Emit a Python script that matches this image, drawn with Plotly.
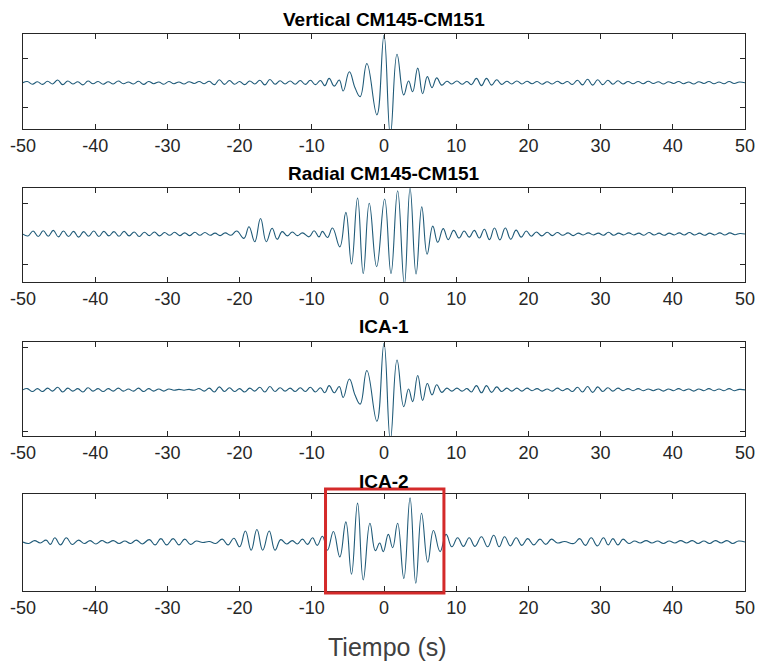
import plotly.graph_objects as go

# ---------------- data (extrema of each waveform) ----------------
vert_t = [
    -50.0, -49.4, -48.7, -48.0, -47.3, -46.6, -45.9, -45.2, -44.5, -43.8,
    -43.1, -42.4, -41.7, -41.0, -40.3, -39.6, -38.9, -38.2, -37.5, -36.8,
    -36.1, -35.4, -34.7, -34.0, -33.3, -32.6, -31.9, -31.2, -30.5, -29.8,
    -29.1, -28.4, -27.7, -27.0, -26.3, -25.6, -24.9, -24.2, -23.5, -22.8,
    -22.1, -21.4, -20.7, -20.0, -19.3, -18.6, -17.9, -17.2, -16.5, -15.8,
    -15.1, -14.4, -13.7, -13.0, -12.3, -11.6, -10.9, -10.2, -9.5, -8.8,
    -8.2, -7.6, -6.9, -6.2, -5.65, -4.8, -4.0, -3.3, -2.37, -0.98,
    0.0, 0.88, 1.8, 2.73, 3.4, 3.97, 4.67, 5.35, 6.0, 6.65,
    7.3, 8.0, 8.7, 9.4, 10.1, 10.8, 11.5, 12.1, 12.8, 13.5,
    14.2, 14.9, 15.6, 16.3, 17.0, 17.7, 18.4, 19.1, 19.8, 20.5,
    21.2, 21.9, 22.6, 23.3, 24.0, 24.7, 25.4, 26.1, 26.8, 27.5,
    28.2, 28.9, 29.6, 30.3, 31.0, 31.7, 32.4, 33.1, 33.8, 34.5,
    35.2, 35.9, 36.6, 37.3, 38.0, 38.7, 39.4, 40.1, 40.8, 41.5,
    42.2, 42.9, 43.6, 44.3, 45.0, 45.7, 46.4, 47.1, 47.8, 48.5,
    49.2, 50.0]
vert_v = [
    0.0, 0.05, -0.06, 0.04, -0.07, 0.06, -0.05, 0.11, -0.08, 0.07,
    -0.05, 0.04, -0.09, 0.07, -0.04, 0.05, -0.06, 0.04, -0.05, 0.07,
    -0.04, 0.03, -0.05, 0.06, -0.07, 0.05, -0.04, 0.03, -0.06, 0.05,
    -0.04, 0.03, -0.05, 0.04, -0.03, 0.05, -0.04, 0.06, -0.08, 0.12,
    -0.07, 0.09, -0.06, 0.05, -0.08, 0.07, -0.05, 0.10, -0.09, 0.13,
    -0.06, 0.08, -0.05, 0.07, -0.06, 0.09, -0.07, 0.10, -0.08, 0.09,
    -0.12, 0.18, -0.14, 0.11, -0.34, 0.45, -0.22, -0.57, 0.79, -1.32,
    1.95, -2.15, 1.17, -0.5, 0.07, -0.37, 0.6, -0.45, 0.25, -0.2,
    0.2, -0.1, 0.06, -0.05, 0.07, -0.06, 0.05, -0.08, 0.18, -0.12,
    0.18, -0.1, 0.12, -0.07, 0.06, -0.05, 0.07, -0.05, 0.06, -0.04,
    0.05, -0.06, 0.04, -0.05, 0.06, -0.04, 0.05, -0.07, 0.1, -0.09,
    0.14, -0.1, 0.12, -0.08, 0.1, -0.06, 0.08, -0.05, 0.05, -0.04,
    0.05, -0.04, 0.06, -0.03, 0.04, -0.05, 0.04, -0.03, 0.05, -0.04,
    0.03, -0.05, 0.04, -0.03, 0.05, -0.04, 0.03, -0.04, 0.05, -0.03,
    0.03, 0.0]

rad_t = [
    -50.0, -49.3, -48.6, -47.9, -47.2, -46.5, -45.8, -45.1, -44.4, -43.7,
    -43.0, -42.3, -41.6, -40.9, -40.2, -39.5, -38.8, -38.1, -37.4, -36.7,
    -36.0, -35.3, -34.6, -33.9, -33.2, -32.5, -31.8, -31.1, -30.4, -29.7,
    -29.0, -28.3, -27.6, -26.9, -26.2, -25.5, -24.8, -24.1, -23.4, -22.7,
    -22.0, -21.2, -20.4, -19.4, -18.7, -17.9, -17.1, -16.3, -15.5, -14.8,
    -14.1, -13.4, -12.7, -12.0, -11.3, -10.37, -9.68, -9.0, -8.53, -7.83,
    -7.13, -6.12, -5.28, -4.5, -3.66, -2.875, -2.04, -1.02, 0.09, 0.97,
    1.89, 2.82, 3.61, 4.44, 5.23, 5.97, 6.75, 7.45, 8.2, 8.9,
    9.65, 10.4, 11.1, 11.8, 12.5, 13.2, 13.9, 14.6, 15.3, 16.05,
    16.8, 17.55, 18.3, 19.0, 19.7, 20.4, 21.1, 21.85, 22.6, 23.3,
    24.0, 24.75, 25.5, 26.2, 26.9, 27.6, 28.3, 29.0, 29.7, 30.4,
    31.1, 31.8, 32.5, 33.2, 33.9, 34.6, 35.3, 36.0, 36.7, 37.4,
    38.1, 38.8, 39.5, 40.2, 40.9, 41.6, 42.3, 43.0, 43.7, 44.4,
    45.1, 45.8, 46.5, 47.2, 47.9, 48.6, 49.3, 50.0]
rad_v = [
    0.0, -0.06, 0.1, -0.08, 0.11, -0.07, 0.12, -0.09, 0.1, -0.08,
    0.09, -0.1, 0.08, -0.07, 0.1, -0.08, 0.09, -0.06, 0.08, -0.07,
    0.09, -0.06, 0.07, -0.08, 0.06, -0.05, 0.07, -0.06, 0.05, -0.04,
    0.06, -0.05, 0.04, -0.05, 0.06, -0.04, 0.05, -0.04, 0.03, -0.05,
    0.04, -0.04, 0.1, -0.14, 0.24, -0.25, 0.51, -0.25, 0.19, -0.17,
    0.08, -0.06, 0.07, -0.05, 0.04, -0.09, 0.11, -0.09, 0.09, -0.11,
    0.2, -0.42, 0.71, -0.98, 1.18, -1.29, 1.01, -1.07, 1.15, -1.29,
    1.42, -1.65, 1.5, -1.31, 0.89, -0.66, 0.26, -0.27, 0.18, -0.18,
    0.12, -0.13, 0.1, -0.1, 0.12, -0.13, 0.16, -0.18, 0.2, -0.19,
    0.2, -0.17, 0.13, -0.1, 0.1, -0.07, 0.07, -0.06, 0.06, -0.05,
    0.05, -0.04, 0.04, -0.05, 0.03, -0.03, 0.04, -0.03, 0.03, -0.04,
    0.06, -0.04, 0.03, -0.03, 0.04, -0.03, 0.03, -0.04, 0.05, -0.03,
    0.03, -0.04, 0.03, -0.03, 0.04, -0.03, 0.05, -0.03, 0.03, -0.04,
    0.03, -0.03, 0.04, -0.03, 0.04, -0.02, 0.02, 0.0]

ica1_t = [
    -50.0, -49.4, -48.7, -48.0, -47.3, -46.6, -45.9, -45.2, -44.5, -43.8,
    -43.1, -42.4, -41.7, -41.0, -40.3, -39.6, -38.9, -38.2, -37.5, -36.8,
    -36.1, -35.4, -34.7, -34.0, -33.3, -32.6, -31.9, -31.2, -30.5, -29.8,
    -29.1, -28.4, -27.7, -27.0, -26.3, -25.6, -24.9, -24.2, -23.5, -22.8,
    -22.1, -21.4, -20.7, -20.0, -19.3, -18.6, -17.9, -17.2, -16.5, -15.8,
    -15.1, -14.4, -13.7, -13.0, -12.3, -11.6, -10.9, -10.2, -9.5, -8.8,
    -8.2, -7.6, -6.9, -6.2, -5.65, -4.8, -4.0, -3.3, -2.37, -0.98,
    0.0, 0.88, 1.8, 2.73, 3.4, 3.97, 4.67, 5.35, 6.0, 6.65,
    7.3, 8.0, 8.7, 9.4, 10.1, 10.8, 11.5, 12.1, 12.8, 13.5,
    14.2, 14.9, 15.6, 16.3, 17.0, 17.7, 18.4, 19.1, 19.8, 20.5,
    21.2, 21.9, 22.6, 23.3, 24.0, 24.7, 25.4, 26.1, 26.8, 27.5,
    28.2, 28.9, 29.6, 30.3, 31.0, 31.7, 32.4, 33.1, 33.8, 34.5,
    35.2, 35.9, 36.6, 37.3, 38.0, 38.7, 39.4, 40.1, 40.8, 41.5,
    42.2, 42.9, 43.6, 44.3, 45.0, 45.7, 46.4, 47.1, 47.8, 48.5,
    49.2, 50.0]
ica1_v = [
    0.0, 0.03, -0.04, 0.03, -0.04, 0.04, -0.03, 0.06, -0.05, 0.04,
    -0.03, 0.03, -0.05, 0.05, -0.03, 0.03, -0.04, 0.03, -0.03, 0.04,
    -0.03, 0.02, -0.03, 0.04, -0.04, 0.03, -0.03, 0.02, -0.03, 0.02,
    -0.01, 0.01, -0.01, 0.01, -0.01, 0.03, -0.03, 0.04, -0.05, 0.07,
    -0.04, 0.05, -0.04, 0.03, -0.05, 0.04, -0.03, 0.06, -0.05, 0.08,
    -0.04, 0.05, -0.03, 0.04, -0.04, 0.05, -0.04, 0.06, -0.05, 0.05,
    -0.07, 0.1, -0.07, 0.08, -0.18, 0.26, -0.13, -0.34, 0.46, -0.75,
    1.11, -1.2, 0.71, -0.4, 0.02, -0.28, 0.34, -0.25, 0.15, -0.12,
    0.12, -0.06, 0.04, -0.03, 0.04, -0.03, 0.03, -0.05, 0.1, -0.07,
    0.1, -0.06, 0.07, -0.04, 0.04, -0.03, 0.04, -0.03, 0.04, -0.02,
    0.03, -0.03, 0.02, -0.03, 0.04, -0.02, 0.03, -0.04, 0.06, -0.05,
    0.08, -0.06, 0.07, -0.04, 0.05, -0.03, 0.04, -0.02, 0.03, -0.02,
    0.03, -0.02, 0.02, -0.02, 0.02, -0.03, 0.02, -0.02, 0.03, -0.02,
    0.02, -0.03, 0.02, -0.02, 0.03, -0.02, 0.02, -0.02, 0.03, -0.02,
    0.01, 0.0]

ica2_t = [
    -50.0, -49.2, -48.4, -47.6, -46.8, -46.2, -45.6, -44.8, -44.0, -43.2,
    -42.3, -41.5, -40.7, -39.9, -39.1, -38.3, -37.5, -36.7, -35.9, -35.1,
    -34.3, -33.5, -32.5, -31.7, -30.9, -30.1, -29.2, -28.4, -27.6, -26.8,
    -26.0, -25.1, -24.2, -23.3, -22.4, -21.6, -20.8, -20.0, -19.2,
    -18.4, -17.6, -16.8, -15.9, -15.1, -14.3, -13.5, -12.7, -12.0, -11.3,
    -10.6, -9.9, -9.25, -8.53, -7.83, -7.0, -6.12, -5.28, -4.5, -3.66,
    -2.875, -1.95, -1.2, -0.6, -0.1, 0.6, 1.2, 1.89, 2.75, 3.61,
    4.4, 5.2, 6.06, 6.85, 7.77, 8.6, 9.4, 10.2, 11.0, 11.8,
    12.6, 13.5, 14.35, 15.2, 15.95, 16.7, 17.5, 18.3, 19.1, 19.9,
    20.75, 21.6, 22.4, 23.2, 24.0, 25.0, 26.3, 27.1, 27.9,
    28.7, 29.55, 30.4, 31.05, 31.7, 32.4, 33.1, 33.9, 34.7, 35.5,
    36.3, 37.1, 37.9, 38.7, 39.5, 40.3, 41.1, 41.9, 42.7, 43.5,
    44.3, 45.1, 45.9, 46.7, 47.5, 48.3, 49.1, 50.0]
ica2_v = [
    0.0, -0.03, 0.03, -0.02, 0.04, -0.05, 0.09, -0.06, 0.09, -0.05,
    0.04, -0.03, 0.03, -0.04, 0.03, -0.02, 0.03, -0.03, 0.02, -0.03,
    0.04, -0.04, 0.05, -0.06, 0.07, -0.06, 0.07, -0.06, 0.06, -0.05,
    0.02, -0.01, 0.01, -0.03, 0.06, -0.06, 0.08, -0.1, 0.23,
    -0.17, 0.26, -0.17, 0.23, -0.17, 0.05, -0.04, 0.03, -0.04, 0.06,
    -0.05, 0.09, -0.07, 0.12, -0.17, 0.22, -0.31, 0.42, -0.67, 0.81,
    -0.79, 0.39, -0.18, -0.02, -0.2, 0.16, -0.12, 0.39, -0.76, 0.92,
    -0.86, 0.6, -0.42, 0.24, -0.2, 0.16, -0.1, 0.09, -0.09, 0.09,
    -0.09, 0.11, -0.1, 0.14, -0.1, 0.11, -0.08, 0.09, -0.07, 0.07,
    -0.06, 0.06, -0.05, 0.06, -0.02, 0.01, -0.03, 0.07, -0.07,
    0.09, -0.08, 0.09, -0.06, 0.07, -0.06, 0.06, -0.03, 0.02, -0.02,
    0.03, -0.02, 0.02, -0.03, 0.02, -0.02, 0.03, -0.02, 0.03, -0.03,
    0.02, -0.03, 0.03, -0.02, 0.03, -0.03, 0.02, 0.0]

titles = ["Vertical CM145-CM151", "Radial CM145-CM151", "ICA-1", "ICA-2"]
x_ticks = [-50, -40, -30, -20, -10, 0, 10, 20, 30, 40, 50]
y_ranges = [[-1.9, 2.0], [-1.57, 1.51], [-1.1, 1.14], [-1.02, 1.0]]
y_ticks = [[-1, 1], [-1, 1], [-1, 1], []]
box_span = [-8.1, 8.3]
x_label = "Tiempo (s)"

# ---------------- styling / layout ----------------
W, H = 759, 661
LINE = "#1f5a78"
AX = "#262626"
FONT = "Liberation Sans, Arial, Helvetica, sans-serif"

# subplot pixel boxes (top, bottom)
boxes = [(34, 129), (188, 282), (342, 436), (494, 591)]
title_y = [20, 173, 327, 481]
xdom = [23 / W, 745 / W]

series = [(vert_t, vert_v), (rad_t, rad_v), (ica1_t, ica1_v), (ica2_t, ica2_v)]

fig = go.Figure()
layout = dict(
    width=W, height=H, margin=dict(l=0, r=0, t=0, b=0, autoexpand=False),
    paper_bgcolor="white", plot_bgcolor="white", showlegend=False,
    font=dict(family=FONT, color=AX),
)
annotations = []
for i, ((t, v), (top, bot)) in enumerate(zip(series, boxes)):
    n = "" if i == 0 else str(i + 1)
    fig.add_trace(go.Scatter(
        x=t, y=v, mode="lines", xaxis="x" + n, yaxis="y" + n,
        line=dict(color=LINE, width=1.1, shape="spline", smoothing=1.25),
        hoverinfo="skip"))
    layout["xaxis" + n] = dict(
        domain=xdom, range=[-50, 50], anchor="y" + n, automargin=False,
        tickvals=x_ticks, ticktext=[str(k) for k in x_ticks],
        ticks="inside", ticklen=5, tickcolor=AX, tickwidth=1,
        showline=True, linecolor=AX, linewidth=1, mirror="ticks",
        showgrid=False, zeroline=False,
        tickfont=dict(size=18, color=AX, family=FONT))
    layout["yaxis" + n] = dict(
        domain=[1 - bot / H, 1 - top / H], range=y_ranges[i], anchor="x" + n,
        automargin=False, tickvals=y_ticks[i], showticklabels=False,
        ticks="inside", ticklen=5, tickcolor=AX, tickwidth=1,
        showline=True, linecolor=AX, linewidth=1, mirror="ticks",
        showgrid=False, zeroline=False)
    annotations.append(dict(
        text="<b>" + titles[i] + "</b>", xref="paper", yref="paper",
        x=384 / W, y=1 - title_y[i] / H, xanchor="center", yanchor="middle",
        showarrow=False, font=dict(size=19, color="#000000", family=FONT)))

annotations.append(dict(
    text=x_label, xref="paper", yref="paper", x=387 / W, y=1 - 647 / H,
    xanchor="center", yanchor="middle", showarrow=False,
    font=dict(size=25, color="#404040", family=FONT)))
layout["annotations"] = annotations
layout["shapes"] = [dict(
    type="rect", xref="x4", yref="paper",
    x0=box_span[0], x1=box_span[1], y0=1 - 593 / H, y1=1 - 489 / H,
    line=dict(color="#d42a2a", width=3), fillcolor="rgba(0,0,0,0)")]
fig.update_layout(**layout)
fig.write_html("out.html")
